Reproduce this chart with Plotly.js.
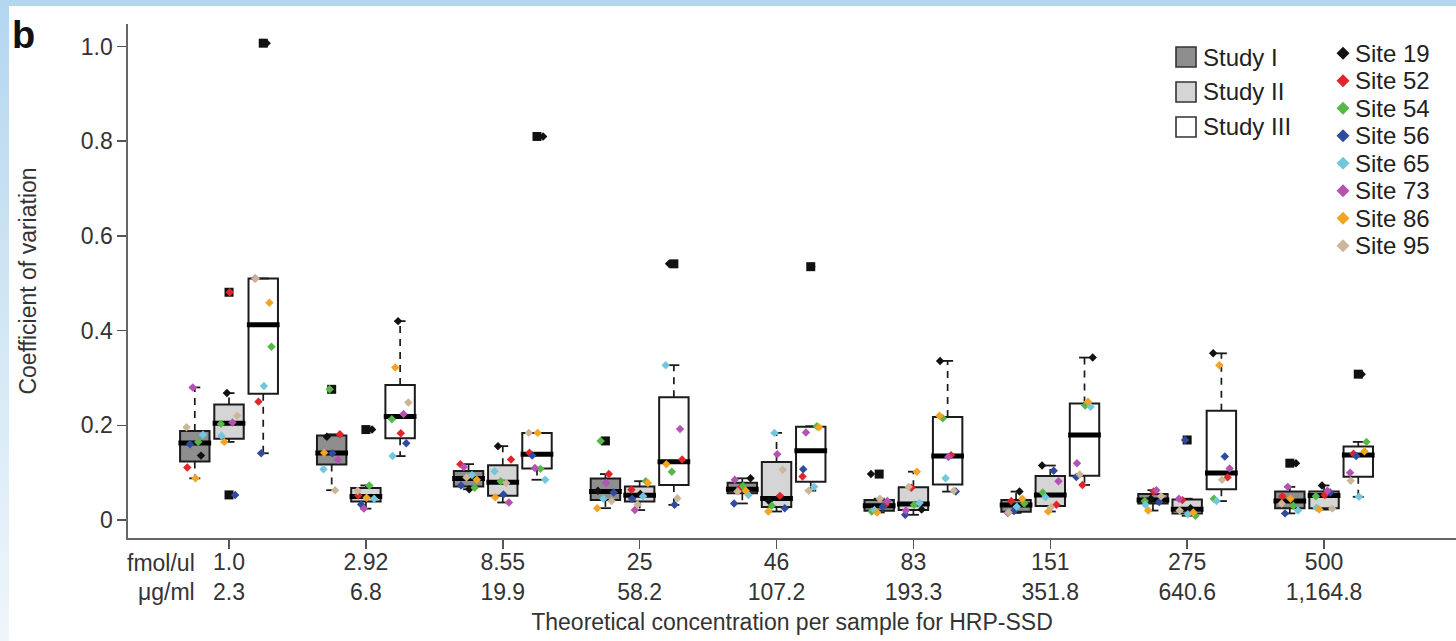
<!DOCTYPE html>
<html><head><meta charset="utf-8">
<script src="https://cdn.plot.ly/plotly-3.0.1.min.js"></script>
<style>
html,body{margin:0;padding:0;width:1456px;height:641px;overflow:hidden;
background:linear-gradient(to bottom,#b3d6ef 0%,#cfe5f4 45%,#eef6fb 100%);}
#chart{position:absolute;left:9px;top:6px;width:1447px;height:635px;background:#fff;}
</style></head><body><div id="chart"></div>
<script>
// ---------------- DATA ----------------
const concFmol = ['1.0','2.92','8.55','25','46','83','151','275','500'];
const concUg   = ['2.3','6.8','19.9','58.2','107.2','193.3','351.8','640.6','1,164.8'];
const studies  = ['Study I','Study II','Study III'];
const sites    = ['Site 19','Site 52','Site 54','Site 56','Site 65','Site 73','Site 86','Site 95'];
const siteColors = ['#111111','#e0262b','#58b847','#2f4a9e','#72c7dc','#b552b3','#f2a523','#cbb698'];
const studyFill  = ['#8e8e8e','#d5d5d5','#ffffff'];
const yTickVals  = [0,0.2,0.4,0.6,0.8,1.0];
const yTickText  = ['0','0.2','0.4','0.6','0.8','1.0'];

// Study I (coefficient of variation per site, per concentration)
const studyI_site19 = [0.136,0.176,0.065,0.062,0.088,0.097,0.060,0.045,0.120];
const studyI_site52 = [0.111,0.181,0.118,0.097,0.068,0.032,0.040,0.060,0.050];
const studyI_site54 = [0.165,0.276,0.068,0.167,0.072,0.018,0.035,0.040,0.030];
const studyI_site56 = [0.160,0.141,0.073,0.058,0.035,0.028,0.019,0.038,0.014];
const studyI_site65 = [0.180,0.107,0.095,0.045,0.053,0.021,0.028,0.032,0.020];
const studyI_site73 = [0.280,0.127,0.112,0.078,0.085,0.040,0.015,0.063,0.070];
const studyI_site86 = [0.088,0.142,0.085,0.025,0.062,0.016,0.045,0.020,0.045];
const studyI_site95 = [0.196,0.063,0.090,0.040,0.060,0.045,0.016,0.050,0.035];
// Study II
const studyII_site19 = [0.268,0.191,0.156,0.055,0.040,0.022,0.115,0.025,0.073];
const studyII_site52 = [0.481,0.052,0.128,0.064,0.051,0.068,0.032,0.042,0.053];
const studyII_site54 = [0.203,0.073,0.082,0.082,0.030,0.032,0.058,0.009,0.050];
const studyII_site56 = [0.053,0.033,0.054,0.045,0.025,0.011,0.104,0.169,0.058];
const studyII_site65 = [0.178,0.045,0.103,0.050,0.184,0.036,0.048,0.012,0.026];
const studyII_site73 = [0.206,0.024,0.037,0.021,0.139,0.020,0.082,0.045,0.062];
const studyII_site86 = [0.165,0.047,0.048,0.078,0.018,0.102,0.018,0.016,0.022];
const studyII_site95 = [0.220,0.062,0.078,0.033,0.106,0.070,0.027,0.020,0.024];
// Study III
const studyIII_site19 = [1.007,0.420,0.810,0.541,0.535,0.336,0.343,0.352,0.308];
const studyIII_site52 = [0.250,0.183,0.142,0.128,0.092,0.137,0.074,0.090,0.140];
const studyIII_site54 = [0.366,0.213,0.108,0.102,0.198,0.215,0.242,0.045,0.165];
const studyIII_site56 = [0.141,0.162,0.136,0.032,0.107,0.060,0.091,0.134,0.135];
const studyIII_site65 = [0.283,0.135,0.085,0.327,0.070,0.088,0.239,0.040,0.049];
const studyIII_site73 = [0.510,0.224,0.110,0.192,0.185,0.133,0.120,0.109,0.100];
const studyIII_site86 = [0.459,0.322,0.184,0.118,0.196,0.220,0.250,0.327,0.145];
const studyIII_site95 = [0.510,0.248,0.184,0.046,0.062,0.062,0.096,0.085,0.083];

const studyData = [
  [studyI_site19,studyI_site52,studyI_site54,studyI_site56,studyI_site65,studyI_site73,studyI_site86,studyI_site95],
  [studyII_site19,studyII_site52,studyII_site54,studyII_site56,studyII_site65,studyII_site73,studyII_site86,studyII_site95],
  [studyIII_site19,studyIII_site52,studyIII_site54,studyIII_site56,studyIII_site65,studyIII_site73,studyIII_site86,studyIII_site95]
];

// ---------------- GEOMETRY / STYLE ----------------
const OFF = [-0.25, 0, 0.25];   // study offset within a concentration
const BW = 0.215;               // box width (data units)
const HW = BW/2;
const CAP = 0.04;               // whisker cap half width
const JIT = [0.045,-0.055,0.025,-0.035,0.06,-0.015,0.005,-0.06];
const FONT = 'Liberation Sans, Arial, Helvetica, sans-serif';

// page-pixel plot area (used for legend placement)
const X0=128, X1=1456, Y0=24, Y1=538;
const px = x => (x-X0)/(X1-X0);
const py = y => (Y1-y)/(Y1-Y0);

// Tukey five-number summary + 1.5 IQR whiskers (R boxplot rules)
function boxStats(vals){
  const a = vals.filter(v=>v!=null).sort((p,q)=>p-q);
  const n = a.length, n4 = Math.floor((n+3)/2)/2;
  const d = [1,n4,(n+1)/2,n+1-n4,n];
  const f = d.map(k=>0.5*(a[Math.floor(k)-1]+a[Math.ceil(k)-1]));
  const iqr = f[3]-f[1], lo = f[1]-1.5*iqr, hi = f[3]+1.5*iqr;
  const inside = a.filter(v=>v>=lo && v<=hi);
  return {q1:f[1], med:f[2], q3:f[3], wlo:Math.min(...inside), whi:Math.max(...inside),
          out:a.filter(v=>v<lo || v>hi)};
}

const traces = [];
const wx=[], wy=[], cx=[], cy=[], mx=[], my=[], ox=[], oy=[];
studies.forEach((st,s)=>{
  const xs=[], q1=[], md=[], q3=[];
  concFmol.forEach((c,i)=>{
    const vals = studyData[s].map(arr=>arr[i]);
    const b = boxStats(vals);
    const x = i+1+OFF[s];
    xs.push(x); q1.push(b.q1); md.push(b.med); q3.push(b.q3);
    wx.push(x,x,null,x,x,null); wy.push(b.q3,b.whi,null,b.q1,b.wlo,null);
    cx.push(x-CAP,x+CAP,null,x-CAP,x+CAP,null); cy.push(b.whi,b.whi,null,b.wlo,b.wlo,null);
    mx.push(x-HW-0.012,x+HW+0.012,null); my.push(b.med,b.med,null);
    b.out.forEach(v=>{ox.push(x); oy.push(v);});
  });
  traces.push({type:'box', name:st, x:xs, q1:q1, median:md, q3:q3, lowerfence:q1, upperfence:q3,
    width:BW, fillcolor:studyFill[s], line:{color:'#1c1c1c', width:2}, whiskerwidth:0,
    showlegend:false, hoverinfo:'skip'});
});
traces.push({type:'scatter', mode:'lines', x:wx, y:wy, line:{color:'#1a1a1a', width:1.7, dash:'7px,6px'}, showlegend:false, hoverinfo:'skip'});
traces.push({type:'scatter', mode:'lines', x:cx, y:cy, line:{color:'#1a1a1a', width:1.8}, showlegend:false, hoverinfo:'skip'});
traces.push({type:'scatter', mode:'lines', x:mx, y:my, line:{color:'#000', width:5}, showlegend:false, hoverinfo:'skip'});
traces.push({type:'scatter', mode:'markers', x:ox, y:oy, marker:{symbol:'square', size:9, color:'#111'}, showlegend:false, hoverinfo:'skip'});

sites.forEach((site,k)=>{
  const xs=[], ys=[];
  studies.forEach((st,s)=>{
    concFmol.forEach((c,i)=>{
      const v = studyData[s][k][i];
      if(v==null) return;
      xs.push(i+1+OFF[s]+JIT[(k+i*3+s*5)%8]); ys.push(v);
    });
  });
  traces.push({type:'scatter', mode:'markers', name:site, x:xs, y:ys,
    marker:{symbol:'diamond', size:6.5, color:siteColors[k], line:{width:0}}, showlegend:false, hoverinfo:'skip'});
});

// ---------------- LEGENDS / LABELS ----------------
const shapes=[], annotations=[];
studies.forEach((st,s)=>{
  const yc = 57 + s*35;
  shapes.push({type:'rect', xref:'paper', yref:'paper', x0:px(1176), x1:px(1196), y0:py(yc+10), y1:py(yc-10),
    fillcolor:studyFill[s], line:{color:'#333', width:1.6}});
  annotations.push({xref:'paper', yref:'paper', x:px(1201), y:py(yc), xanchor:'left', yanchor:'middle',
    text:st, showarrow:false, font:{size:24, color:'#222', family:FONT}});
});
sites.forEach((site,k)=>{
  const yc = 53.3 + k*27.5, xc = 1343, r = 6.5;
  shapes.push({type:'path', xref:'paper', yref:'paper',
    path:`M ${px(xc-r)},${py(yc)} L ${px(xc)},${py(yc-r)} L ${px(xc+r)},${py(yc)} L ${px(xc)},${py(yc+r)} Z`,
    fillcolor:siteColors[k], line:{width:0}});
  annotations.push({xref:'paper', yref:'paper', x:px(1353), y:py(yc), xanchor:'left', yanchor:'middle',
    text:site, showarrow:false, font:{size:24, color:'#222', family:FONT}});
});
annotations.push({xref:'paper', yref:'paper', x:px(10), y:py(35), xanchor:'left', yanchor:'middle',
  text:'<b>b</b>', showarrow:false, font:{size:38, color:'#111', family:FONT}});
annotations.push({xref:'paper', yref:'paper', x:px(197), y:py(562.5), xanchor:'right', yanchor:'middle',
  text:'fmol/ul', showarrow:false, font:{size:23, color:'#333', family:FONT}});
annotations.push({xref:'paper', yref:'paper', x:px(197), y:py(592), xanchor:'right', yanchor:'middle',
  text:'μg/ml', showarrow:false, font:{size:23, color:'#333', family:FONT}});

const layout = {
  width:1447, height:635, margin:{l:119, r:0, t:18, b:103},
  paper_bgcolor:'#ffffff', plot_bgcolor:'#ffffff', showlegend:false,
  font:{family:FONT, size:23, color:'#333'},
  xaxis:{range:[0.262, 9.964], tickvals:concFmol.map((c,i)=>i+1),
    ticktext:concFmol.map((c,i)=>c+'<br>'+concUg[i]),
    ticks:'outside', ticklen:9, tickwidth:1.5, tickcolor:'#555', ticklabelstandoff:-6,
    showline:true, linecolor:'#666', linewidth:1.6, showgrid:false, zeroline:false,
    tickfont:{size:23, color:'#333'}, automargin:false,
    title:{text:'Theoretical concentration per sample for HRP-SSD', font:{size:23, color:'#333'}, standoff:10}},
  yaxis:{range:[-0.038, 1.0475], tickvals:yTickVals, ticktext:yTickText,
    ticks:'outside', ticklen:9, tickwidth:1.5, tickcolor:'#555',
    showline:true, linecolor:'#666', linewidth:1.6, showgrid:false, zeroline:false,
    tickfont:{size:23, color:'#333'}, automargin:false,
    title:{text:'Coefficient of variation', font:{size:23, color:'#333'}, standoff:38}},
  shapes:shapes, annotations:annotations
};
Plotly.newPlot('chart', traces, layout, {displayModeBar:false, staticPlot:true});
</script></body></html>
